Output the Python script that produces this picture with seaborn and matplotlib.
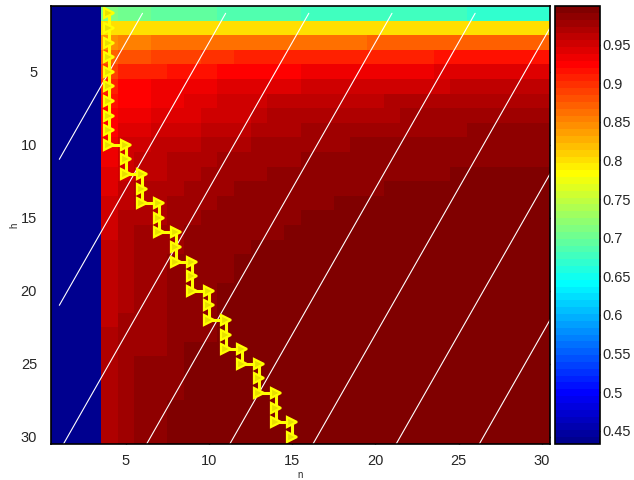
import numpy as np
import pandas as pd
import matplotlib
matplotlib.use("Agg")
import matplotlib.pyplot as plt
from matplotlib.colors import ListedColormap
import seaborn as sns

# ---------------- data ----------------
B = 0.433  # value of the first three (dark blue) columns
n_labels = list(range(1, 31))
h_labels = list(range(1, 31))

row01 = [B]*3 + [0.712] + [0.703]*2 + [0.694]*4 + [0.686]*5 + [0.677]*10 + [0.668]*5
row02 = [B]*3 + [0.800]*27
row03 = [B]*3 + [0.845] + [0.854]*2 + [0.862]*13 + [0.871]*11
row04 = [B]*3 + [0.871] + [0.880]*2 + [0.889]*3 + [0.898]*2 + [0.907]*12 + [0.915]*7
row05 = [B]*3 + [0.889] + [0.907]*3 + [0.915]*3 + [0.924]*5 + [0.933]*8 + [0.942]*7
row06 = [B]*3 + [0.907] + [0.924]*2 + [0.933]*4 + [0.942]*5 + [0.951]*9 + [0.960]*6
row07 = [B]*3 + [0.915] + [0.924]*2 + [0.933]*2 + [0.942]*2 + [0.951]*3 + [0.960]*7 + [0.969]*10
row08 = [B]*3 + [0.924] + [0.933]*2 + [0.942]*3 + [0.951]*3 + [0.960] + [0.969]*8 + [0.978]*9
row09 = [B]*3 + [0.924] + [0.942]*2 + [0.951]*3 + [0.960]*3 + [0.969]*3 + [0.978]*10 + [0.987]*5
row10 = [B]*3 + [0.933] + [0.951]*2 + [0.960]*3 + [0.969]*3 + [0.978]*6 + [0.987]*12
row11 = [B]*3 + [0.933] + [0.951] + [0.960]*2 + [0.969]*3 + [0.978]*5 + [0.987]*15
row12 = [B]*3 + [0.942] + [0.951] + [0.960]*2 + [0.969]*2 + [0.978]*4 + [0.987]*11 + [0.996]*6
row13 = [B]*3 + [0.942] + [0.960] + [0.969]*3 + [0.978]*3 + [0.987]*9 + [0.996]*10
row14 = [B]*3 + [0.951] + [0.960] + [0.969]*2 + [0.978]*3 + [0.987]*7 + [0.996]*13
row15 = [B]*3 + [0.951] + [0.969]*3 + [0.978]*2 + [0.987]*6 + [0.996]*15
row16 = [B]*3 + [0.951] + [0.969] + [0.978]*3 + [0.987]*6 + [0.996]*16
row17 = [B]*3 + [0.960] + [0.969] + [0.978]*3 + [0.987]*4 + [0.996]*18
row18 = [B]*3 + [0.960] + [0.969] + [0.978]*2 + [0.987]*4 + [0.996]*19
row19 = [B]*3 + [0.960] + [0.969] + [0.978]*2 + [0.987]*4 + [0.996]*19
row20 = [B]*3 + [0.960] + [0.969] + [0.978]*2 + [0.987]*3 + [0.996]*20
row21 = [B]*3 + [0.960] + [0.969] + [0.978]*2 + [0.987]*3 + [0.996]*20
row22 = [B]*3 + [0.960] + [0.978]*3 + [0.987]*3 + [0.996]*20
row23 = [B]*3 + [0.969] + [0.978]*3 + [0.987]*3 + [0.996]*20
row24 = [B]*3 + [0.969] + [0.978]*3 + [0.987] + [0.996]*22
row25 = [B]*3 + [0.969] + [0.978] + [0.987]*3 + [0.996]*22
row26 = [B]*3 + [0.969] + [0.978] + [0.987]*3 + [0.996]*22
row27 = [B]*3 + [0.969] + [0.978] + [0.987]*3 + [0.996]*22
row28 = [B]*3 + [0.969] + [0.978] + [0.987]*2 + [0.996]*23
row29 = [B]*3 + [0.969] + [0.978] + [0.987]*2 + [0.996]*23
row30 = [B]*3 + [0.969] + [0.978] + [0.987]*2 + [0.996]*23

rows = [row01, row02, row03, row04, row05, row06, row07, row08, row09, row10,
        row11, row12, row13, row14, row15, row16, row17, row18, row19, row20,
        row21, row22, row23, row24, row25, row26, row27, row28, row29, row30]

# yellow optimal path (n, h)
path_n = [4]*10 + [5, 5, 5, 6, 6, 6, 7, 7, 7, 8, 8, 8, 9, 9, 9, 10, 10, 10,
                   11, 11, 11, 12, 12, 13, 13, 13, 14, 14, 14, 15, 15]
path_h = list(range(1, 11)) + [10, 11, 12, 12, 13, 14, 14, 15, 16, 16, 17, 18,
                               18, 19, 20, 20, 21, 22, 22, 23, 24, 24, 25, 25,
                               26, 27, 27, 28, 29, 29, 30]

# white iso-lines: n + h/2 = const
iso_consts = [6.5, 11.5, 16.5, 21.5, 26.5, 31.5, 36.5, 41.5]

x_ticks = [5, 10, 15, 20, 25, 30]
y_ticks = [5, 10, 15, 20, 25, 30]
cb_ticks = [0.45, 0.5, 0.55, 0.6, 0.65, 0.7, 0.75, 0.8, 0.85, 0.9, 0.95]
vmin, vmax = 0.433, 1.0

# ---------------- MATLAB jet(64) ----------------
def matlab_jet(m=64):
    n = int(np.ceil(m / 4))
    u = np.concatenate([np.arange(1, n + 1) / n, np.ones(n - 1), np.arange(n, 0, -1) / n])
    g = int(np.ceil(n / 2)) - (1 if m % 4 == 1 else 0) + np.arange(1, len(u) + 1)
    r = g + n
    b = g - n
    g = g[g <= m]
    r = r[r <= m]
    b = b[b >= 1]
    J = np.zeros((m, 3))
    J[r - 1, 0] = u[:len(r)]
    J[g - 1, 1] = u[:len(g)]
    J[b - 1, 2] = u[len(u) - len(b):]
    return ListedColormap(J)

jet64 = matlab_jet(64)

# ---------------- plot ----------------
sns.set_style("white")
plt.rcParams["font.family"] = ["Liberation Sans", "DejaVu Sans"]

df = pd.DataFrame(rows, index=h_labels, columns=n_labels)

fig = plt.figure(figsize=(6.34, 4.8), dpi=100)
ax = fig.add_axes([51 / 634, (480 - 444) / 480, 499 / 634, 438 / 480])
cax = fig.add_axes([555 / 634, (480 - 444) / 480, 45 / 634, 438 / 480])

sns.heatmap(df, ax=ax, cbar_ax=cax, cmap=jet64, vmin=vmin, vmax=vmax,
            xticklabels=False, yticklabels=False, linewidths=0)

# white diagonal lines
for c in iso_consts:
    h_end = min(2 * (c - 1), 31)
    hs = np.array([1.0, h_end])
    ns = c - hs / 2
    ax.plot(ns - 0.5, hs - 0.5, color="white", lw=0.8)

# yellow path
ax.plot(np.array(path_n) - 0.5, np.array(path_h) - 0.5, color="#FFFF00", lw=2.2,
        marker=">", markersize=7, markerfacecolor="#E8E000", markeredgecolor="#FFFF00",
        markeredgewidth=1.6)

ax.set_xlim(0, 30)
ax.set_ylim(30, 0)

ax.set_xticks([t - 0.5 for t in x_ticks])
ax.set_xticklabels([str(t) for t in x_ticks], rotation=0)
ax.set_yticks([t - 0.5 for t in y_ticks])
ax.set_yticklabels([str(t) for t in y_ticks], rotation=0)
ax.tick_params(axis="both", direction="in", length=5, width=1, color="black",
               top=True, right=True, bottom=True, left=True, labelsize=10.5)
ax.tick_params(axis="x", pad=7)
ax.tick_params(axis="y", pad=10)
ax.set_xlabel("n", fontsize=7, labelpad=2)
ax.set_ylabel("h", fontsize=7, labelpad=1)
for sp in ax.spines.values():
    sp.set_visible(True)
    sp.set_color("black")
    sp.set_linewidth(1.2)

cb = ax.collections[0].colorbar
cb.set_ticks(cb_ticks)
cb.set_ticklabels(["%g" % t for t in cb_ticks])
cb.outline.set_visible(True)
cb.outline.set_linewidth(1.2)
cb.outline.set_edgecolor("black")
cax.tick_params(axis="y", direction="in", length=4, width=1, color="black",
                left=True, right=True, labelsize=10.5, pad=2)

fig.savefig("out.png", dpi=100)
